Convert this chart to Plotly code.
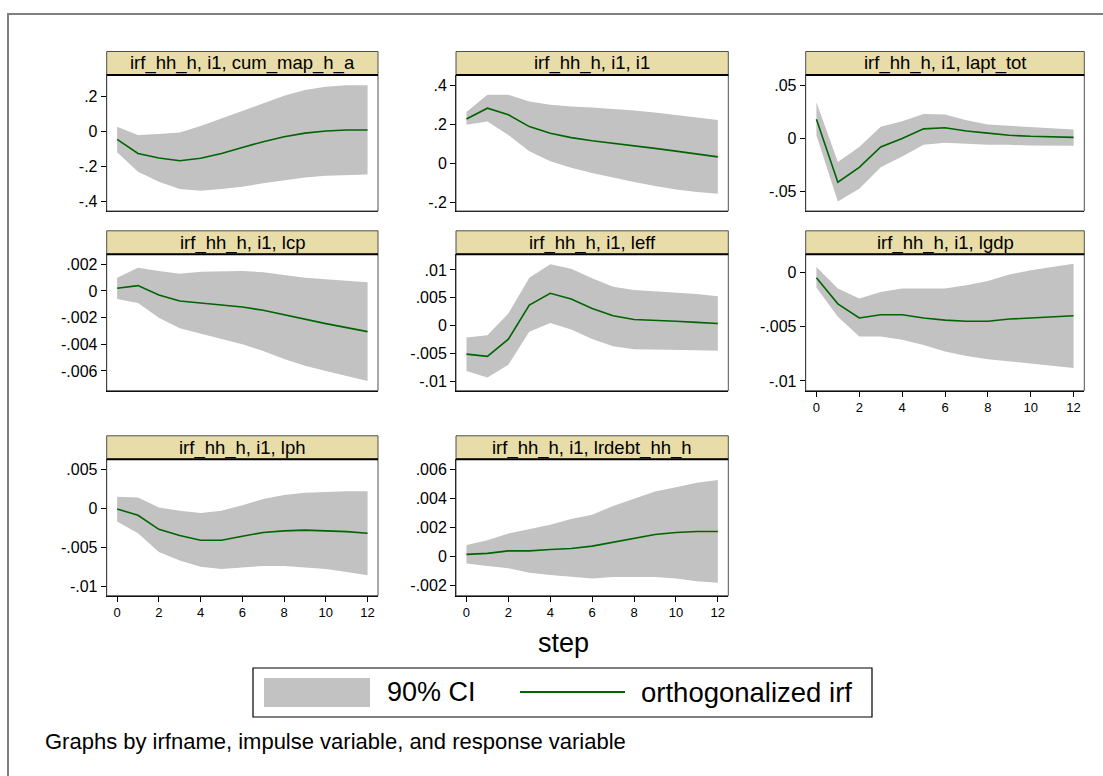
import plotly.graph_objects as go

# ---------------- data ----------------
steps = list(range(13))

panel_titles = [
    "irf_hh_h, i1, cum_map_h_a", "irf_hh_h, i1, i1", "irf_hh_h, i1, lapt_tot",
    "irf_hh_h, i1, lcp", "irf_hh_h, i1, leff", "irf_hh_h, i1, lgdp",
    "irf_hh_h, i1, lph", "irf_hh_h, i1, lrdebt_hh_h",
]

irf_cum_map = [-0.044, -0.124, -0.150, -0.166, -0.152, -0.124, -0.090, -0.057, -0.029, -0.008, 0.004, 0.010, 0.010]
hi_cum_map = [0.029, -0.019, -0.013, -0.004, 0.032, 0.076, 0.120, 0.166, 0.206, 0.238, 0.257, 0.265, 0.265]
lo_cum_map = [-0.118, -0.229, -0.286, -0.328, -0.337, -0.328, -0.314, -0.295, -0.276, -0.261, -0.251, -0.246, -0.244]

irf_i1 = [0.227, 0.282, 0.248, 0.188, 0.154, 0.132, 0.116, 0.104, 0.091, 0.077, 0.063, 0.050, 0.034]
hi_i1 = [0.262, 0.350, 0.350, 0.316, 0.299, 0.290, 0.285, 0.279, 0.270, 0.260, 0.248, 0.236, 0.222]
lo_i1 = [0.197, 0.214, 0.145, 0.063, 0.012, -0.022, -0.048, -0.072, -0.094, -0.115, -0.132, -0.145, -0.154]

irf_lapt = [0.018, -0.041, -0.027, -0.008, 0.000, 0.009, 0.010, 0.007, 0.005, 0.003, 0.002, 0.0016, 0.001]
hi_lapt = [0.034, -0.022, -0.008, 0.011, 0.016, 0.023, 0.0225, 0.017, 0.013, 0.012, 0.011, 0.0094, 0.0084]
lo_lapt = [0.003, -0.059, -0.047, -0.027, -0.017, -0.006, -0.004, -0.005, -0.006, -0.006, -0.0066, -0.0069, -0.0069]

irf_lcp = [0.0002, 0.0004, -0.0003, -0.00075, -0.0009, -0.00105, -0.0012, -0.00145, -0.0018, -0.0021, -0.00245, -0.00275, -0.00305]
hi_lcp = [0.0010, 0.00175, 0.0015, 0.0013, 0.00145, 0.0015, 0.0015, 0.0014, 0.0012, 0.0010, 0.00088, 0.00075, 0.00065]
lo_lcp = [-0.0006, -0.0009, -0.0020, -0.0028, -0.0032, -0.0036, -0.0040, -0.0045, -0.0051, -0.0056, -0.0060, -0.0064, -0.00675]

irf_leff = [-0.0051, -0.0055, -0.0024, 0.0037, 0.0058, 0.0048, 0.0031, 0.0018, 0.0011, 0.0010, 0.0008, 0.0006, 0.0004]
hi_leff = [-0.0021, -0.0017, 0.0022, 0.0086, 0.0110, 0.0102, 0.0085, 0.0070, 0.0064, 0.0062, 0.0060, 0.0057, 0.0053]
lo_leff = [-0.0081, -0.0093, -0.0070, -0.0011, 0.0005, -0.0007, -0.0024, -0.0037, -0.0042, -0.0043, -0.0043, -0.0044, -0.0045]

irf_lgdp = [-0.0005, -0.0029, -0.0042, -0.0039, -0.0039, -0.0042, -0.0044, -0.0045, -0.0045, -0.0043, -0.0042, -0.0041, -0.0040]
hi_lgdp = [0.0005, -0.0015, -0.0024, -0.0018, -0.0015, -0.0015, -0.0015, -0.0012, -0.0008, -0.0002, 0.0002, 0.0005, 0.0008]
lo_lgdp = [-0.0014, -0.0041, -0.0059, -0.0059, -0.0062, -0.0067, -0.0073, -0.0077, -0.0080, -0.0082, -0.0084, -0.0086, -0.0088]

irf_lph = [-0.0001, -0.0009, -0.0027, -0.0035, -0.0041, -0.0041, -0.0036, -0.0031, -0.0029, -0.0028, -0.0029, -0.0030, -0.0032]
hi_lph = [0.0015, 0.0014, 0.0001, -0.0003, -0.0006, -0.0003, 0.0004, 0.0012, 0.0017, 0.0020, 0.0021, 0.0022, 0.0022]
lo_lph = [-0.0017, -0.0032, -0.0056, -0.0067, -0.0075, -0.0078, -0.0076, -0.0074, -0.0074, -0.0076, -0.0078, -0.0082, -0.0086]

irf_lrdebt = [0.00016, 0.00023, 0.0004, 0.0004, 0.0005, 0.00057, 0.00073, 0.0010, 0.0013, 0.00153, 0.00167, 0.00174, 0.00174]
hi_lrdebt = [0.0008, 0.00114, 0.0016, 0.0019, 0.0022, 0.0026, 0.0029, 0.0035, 0.0040, 0.0045, 0.0048, 0.0051, 0.0053]
lo_lrdebt = [-0.00046, -0.00064, -0.0008, -0.0011, -0.00126, -0.0014, -0.0015, -0.0014, -0.0014, -0.0014, -0.0015, -0.0017, -0.0018]

ytick_cum_map = [-0.4, -0.2, 0, 0.2]
ytick_i1 = [-0.2, 0, 0.2, 0.4]
ytick_lapt = [-0.05, 0, 0.05]
ytick_lcp = [-0.006, -0.004, -0.002, 0, 0.002]
ytick_leff = [-0.01, -0.005, 0, 0.005, 0.01]
ytick_lgdp = [-0.01, -0.005, 0]
ytick_lph = [-0.01, -0.005, 0, 0.005]
ytick_lrdebt = [-0.002, 0, 0.002, 0.004, 0.006]

xtick_steps = [0, 2, 4, 6, 8, 10, 12]

legend_labels = ["90% CI", "orthogonalized irf"]
x_title = "step"
note_text = "Graphs by irfname, impulse variable, and response variable"

# ---------------- assemble ----------------
irfs = [irf_cum_map, irf_i1, irf_lapt, irf_lcp, irf_leff, irf_lgdp, irf_lph, irf_lrdebt]
his = [hi_cum_map, hi_i1, hi_lapt, hi_lcp, hi_leff, hi_lgdp, hi_lph, hi_lrdebt]
los = [lo_cum_map, lo_i1, lo_lapt, lo_lcp, lo_leff, lo_lgdp, lo_lph, lo_lrdebt]
yticks = [ytick_cum_map, ytick_i1, ytick_lapt, ytick_lcp, ytick_leff, ytick_lgdp, ytick_lph, ytick_lrdebt]
yranges = [(-0.453, 0.324), (-0.242, 0.451), (-0.0679, 0.0594), (-0.00748, 0.00275),
           (-0.01165, 0.0128), (-0.0109, 0.00166), (-0.01123, 0.0063), (-0.00269, 0.00672)]
show_xticks = [False, False, False, False, False, True, True, True]

W, H = 1103, 776
cols_px = [(106.7, 378.0), (456.0, 728.3), (805.7, 1084.3)]
rows_px = [(75.0, 211.0), (254.3, 390.7), (459.3, 595.7)]
strip_h = 23.5

BAND = "#c2c2c2"
LINE = "#006400"
FONT = "Liberation Sans, Arial, sans-serif"


def fx(x):
    return x / W


def fy(y):
    return 1 - y / H


def fmt(v):
    s = f"{v:g}"
    if s.startswith("0."):
        s = s[1:]
    elif s.startswith("-0."):
        s = "-" + s[2:]
    return s


fig = go.Figure()
shapes = []
annotations = []
layout_axes = {}

for i in range(8):
    r, c = divmod(i, 3)
    k = i + 1
    xs = "" if k == 1 else str(k)
    x0, x1 = cols_px[c]
    y0, y1 = rows_px[r]

    fig.add_trace(go.Scatter(
        x=steps + steps[::-1], y=his[i] + los[i][::-1],
        fill="toself", fillcolor=BAND, line=dict(width=0), mode="lines",
        hoverinfo="skip", showlegend=False, xaxis="x" + xs, yaxis="y" + xs))
    fig.add_trace(go.Scatter(
        x=steps, y=irfs[i], mode="lines", line=dict(color=LINE, width=1.6),
        showlegend=False, xaxis="x" + xs, yaxis="y" + xs))

    layout_axes["xaxis" + xs] = dict(
        domain=[fx(x0), fx(x1)], range=[-0.5, 12.5], anchor="y" + xs,
        showgrid=False, zeroline=False, showline=True, linecolor="black", linewidth=1,
        tickvals=xtick_steps if show_xticks[i] else [],
        ticktext=[str(t) for t in xtick_steps] if show_xticks[i] else [],
        ticks="outside" if show_xticks[i] else "", ticklen=5, tickcolor="black",
        showticklabels=show_xticks[i], tickfont=dict(size=13, color="black", family=FONT))
    layout_axes["yaxis" + xs] = dict(
        domain=[fy(y1), fy(y0)], range=list(yranges[i]), anchor="x" + xs,
        showgrid=False, zeroline=False, showline=True, linecolor="black", linewidth=1,
        tickvals=yticks[i], ticktext=[fmt(v) for v in yticks[i]],
        ticks="outside", ticklen=5, tickcolor="black",
        tickfont=dict(size=16, color="black", family=FONT))

    # plot border (right side grayish)
    shapes.append(dict(type="rect", xref="paper", yref="paper",
                       x0=fx(x0), x1=fx(x1), y0=fy(y1), y1=fy(y0),
                       line=dict(color="#505050", width=1), layer="above"))
    # strip
    shapes.append(dict(type="rect", xref="paper", yref="paper",
                       x0=fx(x0), x1=fx(x1), y0=fy(y0), y1=fy(y0 - strip_h),
                       fillcolor="#e8dca8", line=dict(color="#505050", width=1)))
    shapes.append(dict(type="line", xref="paper", yref="paper",
                       x0=fx(x0), x1=fx(x1), y0=fy(y0), y1=fy(y0),
                       line=dict(color="black", width=2)))
    annotations.append(dict(xref="paper", yref="paper", x=fx((x0 + x1) / 2),
                            y=fy(y0 - strip_h / 2), text=panel_titles[i], showarrow=False,
                            xanchor="center", yanchor="middle",
                            font=dict(size=18.5, color="black", family=FONT)))

# outer frame
shapes.append(dict(type="rect", xref="paper", yref="paper", x0=fx(8), x1=1.05,
                   y0=-0.05, y1=fy(14), line=dict(color="#808080", width=2)))

# x-axis title
annotations.append(dict(xref="paper", yref="paper", x=fx(563), y=fy(643), text=x_title,
                        showarrow=False, xanchor="center", yanchor="middle",
                        font=dict(size=27, color="black", family=FONT)))

# legend box
shapes.append(dict(type="rect", xref="paper", yref="paper", x0=fx(253), x1=fx(872),
                   y0=fy(717), y1=fy(668), line=dict(color="black", width=1.2)))
shapes.append(dict(type="rect", xref="paper", yref="paper", x0=fx(264), x1=fx(370),
                   y0=fy(707), y1=fy(678), fillcolor=BAND, line=dict(width=0)))
shapes.append(dict(type="line", xref="paper", yref="paper", x0=fx(520), x1=fx(625),
                   y0=fy(692), y1=fy(692), line=dict(color=LINE, width=2)))
annotations.append(dict(xref="paper", yref="paper", x=fx(385), y=fy(692), text=legend_labels[0],
                        showarrow=False, xanchor="left", yanchor="middle",
                        font=dict(size=27, color="black", family=FONT)))
annotations.append(dict(xref="paper", yref="paper", x=fx(639), y=fy(692), text=legend_labels[1],
                        showarrow=False, xanchor="left", yanchor="middle",
                        font=dict(size=27.5, color="black", family=FONT)))

# note
annotations.append(dict(xref="paper", yref="paper", x=fx(43), y=fy(741), text=note_text,
                        showarrow=False, xanchor="left", yanchor="middle",
                        font=dict(size=22, color="black", family=FONT)))

fig.update_layout(
    width=W, height=H, margin=dict(l=0, r=0, t=0, b=0),
    paper_bgcolor="white", plot_bgcolor="white",
    shapes=shapes, annotations=annotations, showlegend=False,
    font=dict(family=FONT, color="black"),
    **layout_axes,
)

fig.write_html("out.html")
